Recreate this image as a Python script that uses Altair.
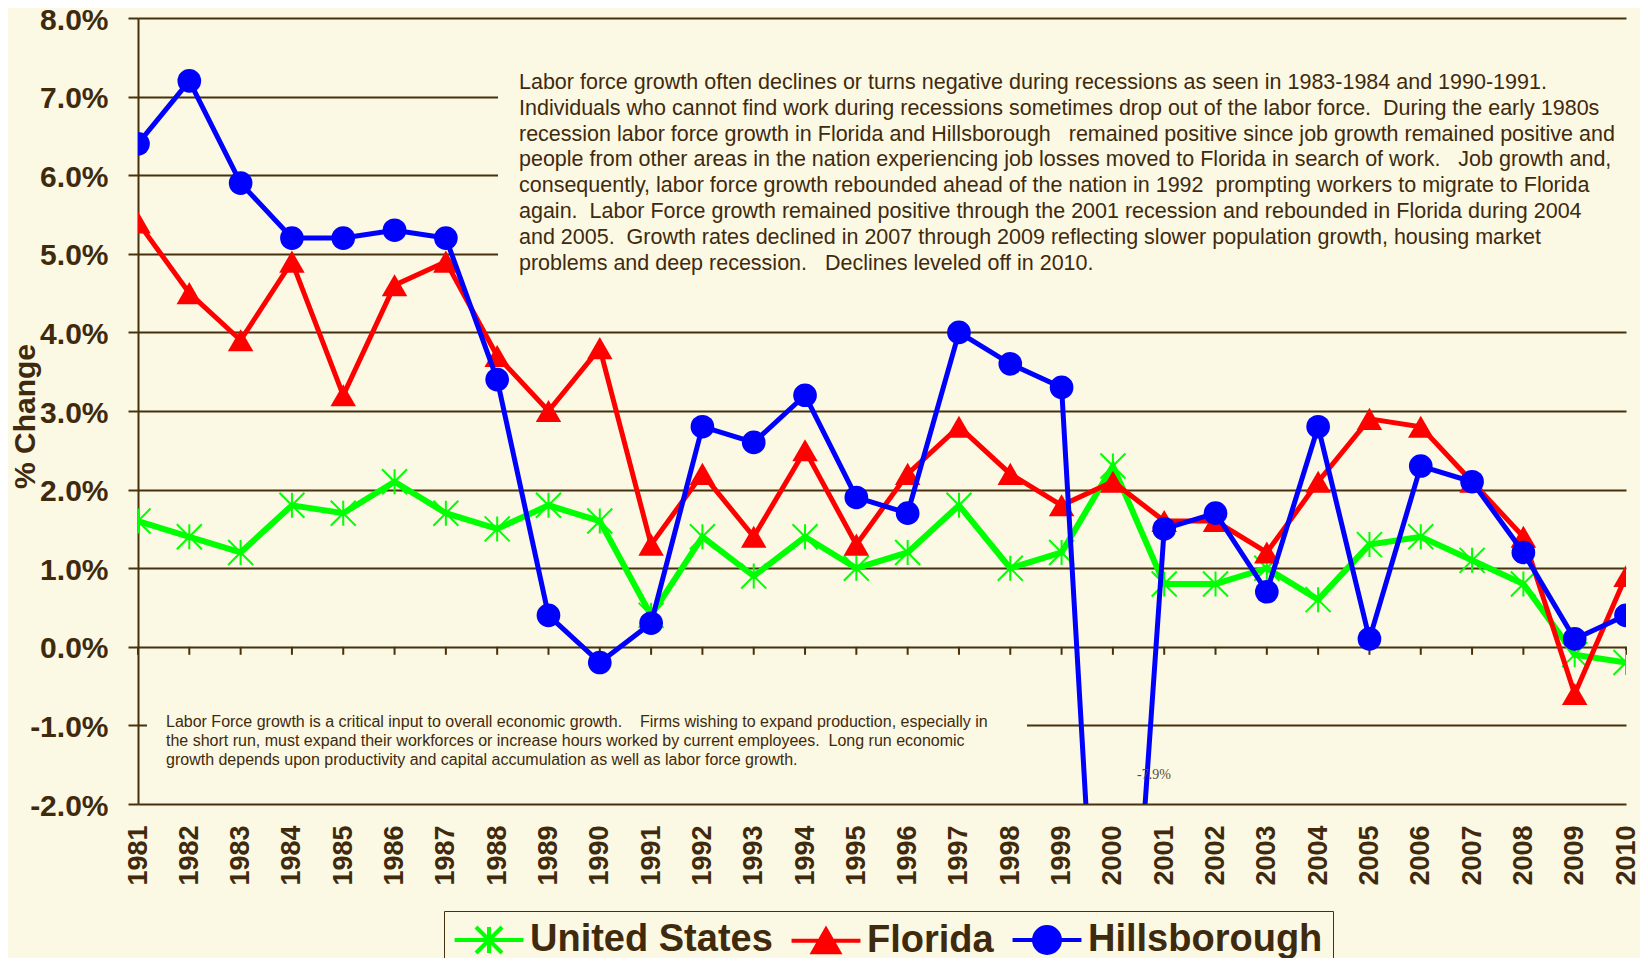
import altair as alt
import pandas as pd

# ---------------- data ----------------
years = list(range(1981, 2011))
us_vals = [1.6, 1.4, 1.2, 1.8, 1.7, 2.1, 1.7, 1.5, 1.8, 1.6,
           0.4, 1.4, 0.9, 1.4, 1.0, 1.2, 1.8, 1.0, 1.2, 2.3,
           0.8, 0.8, 1.0, 0.6, 1.3, 1.4, 1.1, 0.8, -0.1, -0.2]
fl_vals = [5.4, 4.5, 3.9, 4.9, 3.2, 4.6, 4.9, 3.7, 3.0, 3.8,
           1.3, 2.2, 1.4, 2.5, 1.3, 2.2, 2.8, 2.2, 1.8, 2.1,
           1.6, 1.6, 1.2, 2.1, 2.9, 2.8, 2.1, 1.4, -0.6, 0.9]
hb_vals = [6.4, 7.2, 5.9, 5.2, 5.2, 5.3, 5.2, 3.4, 0.4, -0.2,
           0.3, 2.8, 2.6, 3.2, 1.9, 1.7, 4.0, 3.6, 3.3, -7.9,
           1.5, 1.7, 0.7, 2.8, 0.1, 2.3, 2.1, 1.2, 0.1, 0.4]
series_names = ["United States", "Florida", "Hillsborough"]
series_colors = ["#00FF00", "#FF0000", "#0000FF"]
y_ticks = list(range(-2, 9))

top_note = [
    "Labor force growth often declines or turns negative during recessions as seen in 1983-1984 and 1990-1991.",
    "Individuals who cannot find work during recessions sometimes drop out of the labor force.  During the early 1980s",
    "recession labor force growth in Florida and Hillsborough   remained positive since job growth remained positive and",
    "people from other areas in the nation experiencing job losses moved to Florida in search of work.   Job growth and,",
    "consequently, labor force growth rebounded ahead of the nation in 1992  prompting workers to migrate to Florida",
    "again.  Labor Force growth remained positive through the 2001 recession and rebounded in Florida during 2004",
    "and 2005.  Growth rates declined in 2007 through 2009 reflecting slower population growth, housing market",
    "problems and deep recession.   Declines leveled off in 2010.",
]
bottom_note = [
    "Labor Force growth is a critical input to overall economic growth.    Firms wishing to expand production, especially in",
    "the short run, must expand their workforces or increase hours worked by current employees.  Long run economic",
    "growth depends upon productivity and capital accumulation as well as labor force growth.",
]
hb_low_label = "-7.9%"


def keep_spaces(s):
    # SVG collapses runs of spaces; keep them with no-break spaces
    out = []
    prev_space = False
    for ch in s:
        if ch == " ":
            out.append("\u00a0" if prev_space else " ")
            prev_space = True
        else:
            out.append(ch)
            prev_space = False
    return "".join(out)


top_note = [keep_spaces(s) for s in top_note]
bottom_note = [keep_spaces(s) for s in bottom_note]

# ---------------- styling ----------------
BG = "#FBF9E3"
BROWN = "#47310F"
TXT = "#3F2A0E"
FONT = "Liberation Sans"
W, H = 1488, 786

rows = []
for name, vals in zip(series_names, [us_vals, fl_vals, hb_vals]):
    for yr, v in zip(years, vals):
        rows.append({"year": yr, "value": v, "series": name})
df = pd.DataFrame(rows)
zero_df = pd.DataFrame({"year": years, "value": [0.0] * len(years)})
one = pd.DataFrame({"k": [0]})

xs = alt.Scale(domain=[1981, 2010], nice=False, zero=False)
ys = alt.Scale(domain=[-2, 8], nice=False, zero=False)

x_enc = alt.X(
    "year:Q", scale=xs, title=None,
    axis=alt.Axis(values=years, format="d", labelAngle=270, labelFont=FONT,
                  labelFontSize=27, labelFontWeight="bold", labelColor=TXT,
                  labelPadding=21, ticks=False, tickSize=0, domain=False,
                  grid=False, labelFlush=False, labelOverlap=False),
)
y_enc = alt.Y(
    "value:Q", scale=ys, title="% Change",
    axis=alt.Axis(values=y_ticks,
                  labelExpr="(datum.value < 0 ? '-' : '') + format(abs(datum.value), '.1f') + '%'",
                  grid=True, gridColor=BROWN, gridWidth=2, gridOpacity=1,
                  domain=True, domainColor=BROWN, domainWidth=2,
                  ticks=True, tickColor=BROWN, tickWidth=2, tickSize=10,
                  labelFont=FONT, labelFontSize=30, labelFontWeight="bold",
                  labelColor=TXT, labelPadding=20, labelOffset=2, labelFlush=False,
                  labelOverlap=False, titleFont=FONT, titleFontSize=30,
                  titleFontWeight="bold", titleColor=TXT, titleAngle=270,
                  titleX=-113, titleY=398, titleAlign="center",
                  titleBaseline="middle"),
)

layers = []

# boxes hiding gridlines behind the text blocks
layers.append(alt.Chart(one).mark_rect(color=BG).encode(
    x=alt.value(360), x2=alt.value(1502), y=alt.value(22), y2=alt.value(282)))
layers.append(alt.Chart(one).mark_rect(color=BG).encode(
    x=alt.value(9), x2=alt.value(889), y=alt.value(680), y2=alt.value(755)))

# tick marks on the zero line
layers.append(alt.Chart(zero_df).mark_rule(color=BROWN, strokeWidth=2, y2Offset=8).encode(
    x=x_enc, y=y_enc, y2=alt.Y2("value")))

STAR = "M0,-1V1M-1,-1L1,1M-1,1L1,-1"
point_styles = [
    dict(shape=STAR, filled=False, strokeWidth=2, size=625),
    dict(shape="triangle-up", filled=True, size=650),
    dict(shape="circle", filled=True, size=560),
]
line_widths = [6, 5, 5]
for name, col, ps, lw in zip(series_names, series_colors, point_styles, line_widths):
    sub = alt.Chart(df).transform_filter(alt.datum.series == name)
    layers.append(sub.mark_line(color=col, strokeWidth=lw, clip=True).encode(x=x_enc, y=y_enc))
    layers.append(sub.mark_point(color=col, opacity=1, clip=True, **ps).encode(x=x_enc, y=y_enc))

# text blocks
layers.append(alt.Chart(one).mark_text(
    text=top_note, align="left", baseline="top", font=FONT, fontSize=21.5,
    lineHeight=25.8, color=TXT).encode(x=alt.value(381), y=alt.value(54)))
layers.append(alt.Chart(one).mark_text(
    text=bottom_note, align="left", baseline="top", font=FONT, fontSize=16,
    lineHeight=19, color=TXT).encode(x=alt.value(28), y=alt.value(696)))
layers.append(alt.Chart(one).mark_text(
    text=hb_low_label, align="center", baseline="middle", font="Liberation Serif",
    fontSize=14, color="#5E4B34").encode(x=alt.value(1016), y=alt.value(757)))

# legend (driven by the scales, no visible marks)
L = 2.65
legend_paths = [
    f"M-{L},0H{L}M0,-1V1M-1,-1L1,1M-1,1L1,-1",
    f"M-{L},0H{L}M0,-0.87L1,0.87H-1Z",
    f"M-{L},0H{L}M-1,0A1,1,0,1,1,1,0A1,1,0,1,1,-1,0Z",
]
leg = alt.Legend(title=None, orient="none", legendX=306, legendY=893,
                 direction="horizontal", columns=3, labelFont=FONT,
                 labelFontSize=38, labelFontWeight="bold", labelColor=TXT,
                 symbolSize=676, symbolStrokeWidth=4, strokeColor=BROWN,
                 fillColor=BG, padding=10, symbolOffset=16, labelOffset=22,
                 columnPadding=10, symbolOpacity=1, labelLimit=0)
leg_df = pd.DataFrame({"series": series_names})
layers.append(alt.Chart(leg_df).transform_filter("false").mark_point(
    filled=True, strokeWidth=4, size=676, opacity=1).encode(
    fill=alt.Fill("series:N", scale=alt.Scale(domain=series_names, range=series_colors), legend=leg),
    stroke=alt.Stroke("series:N", scale=alt.Scale(domain=series_names, range=series_colors), legend=leg),
    shape=alt.Shape("series:N", scale=alt.Scale(domain=series_names, range=legend_paths), legend=leg),
))

chart = alt.layer(*layers).properties(
    width=W, height=H, background=BG,
    padding={"left": 130, "top": 10, "right": 14, "bottom": 154},
    autosize=alt.AutoSizeParams(type="none"),
).configure_view(stroke=None)

chart.save("out.html", embed_options={"renderer": "svg", "actions": False})
